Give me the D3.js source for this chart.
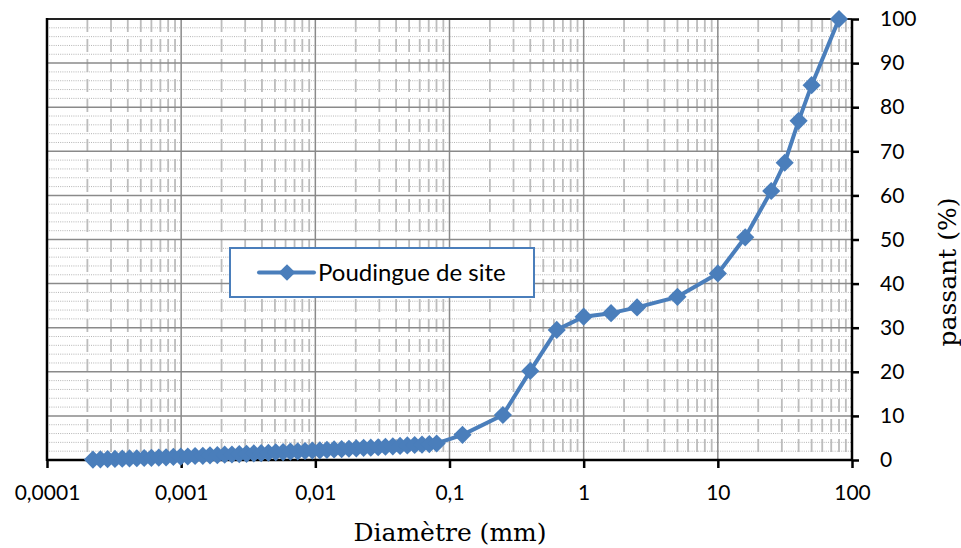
<!DOCTYPE html>
<html>
<head>
<meta charset="utf-8">
<script src="https://cdn.jsdelivr.net/npm/d3@7/dist/d3.min.js"></script>
<style>
  html, body { margin: 0; padding: 0; background: #fff; }
  svg { display: block; }
</style>
</head>
<body>
<svg id="chart" width="961" height="548"></svg>
<script>
// ---- Data ----
const seriesName = "Poudingue de site";
const diameters = [
  0.000220, 0.000250, 0.000283, 0.000321, 0.000364, 0.000412, 0.000467, 0.000530,
  0.000600, 0.000681, 0.000772, 0.000875, 0.000992, 0.00112, 0.00127, 0.00145,
  0.00164, 0.00186, 0.00211, 0.00239, 0.00271, 0.00307, 0.00348, 0.00395,
  0.00447, 0.00507, 0.00575, 0.00652, 0.00739, 0.00838, 0.00950, 0.0108,
  0.0122, 0.0138, 0.0157, 0.0178, 0.0202, 0.0229, 0.0259, 0.0294,
  0.0333, 0.0378, 0.0428, 0.0485, 0.0550, 0.0624, 0.0707, 0.0802,
  0.125, 0.25, 0.4, 0.63, 1, 1.6, 2.5, 5, 10, 16, 25, 31.5, 40, 50, 80
];
const passing = [
  0.1, 0.15, 0.2, 0.25, 0.3, 0.35, 0.4, 0.45,
  0.5, 0.55, 0.6, 0.7, 0.75, 0.8, 0.9, 0.95,
  1.05, 1.1, 1.2, 1.25, 1.35, 1.4, 1.5, 1.55,
  1.65, 1.75, 1.8, 1.9, 1.95, 2.05, 2.15, 2.2,
  2.3, 2.4, 2.45, 2.55, 2.65, 2.75, 2.8, 2.9,
  3.0, 3.1, 3.2, 3.3, 3.4, 3.5, 3.6, 3.75,
  5.7, 10.2, 20.2, 29.5, 32.5, 33.3, 34.6, 37.0, 42.3, 50.5, 61.0, 67.4, 76.9, 85.0, 100
];
const xTicks = [0.0001, 0.001, 0.01, 0.1, 1, 10, 100];
const xTickLabels = ["0,0001", "0,001", "0,01", "0,1", "1", "10", "100"];
const yTicks = [0, 10, 20, 30, 40, 50, 60, 70, 80, 90, 100];
const xTitle = "Diamètre (mm)";
const yTitle = "passant (%)";

// ---- Layout ----
const L = 47, R = 852, T = 19, B = 460;
const svg = d3.select("#chart");
const x = d3.scaleLog().domain([0.0001, 100]).range([L, R]);
const y = d3.scaleLinear().domain([0, 100]).range([B, T]);
const blue = "#4a7ebb";

// minor grid values
const minorX = [];
xTicks.slice(0, -1).forEach(d => { for (let k = 2; k <= 9; k++) minorX.push(d * k); });
const minorY = d3.range(0, 101, 2).filter(v => v % 10 !== 0);

const grid = svg.append("g");
grid.selectAll("line.mh").data(minorY).join("line")
  .attr("x1", L).attr("x2", R).attr("y1", d => y(d)).attr("y2", d => y(d))
  .attr("stroke", "#b4b4b4").attr("stroke-width", 1).attr("stroke-dasharray", "1,1.2");
grid.selectAll("line.mv").data(minorX).join("line")
  .attr("x1", d => x(d)).attr("x2", d => x(d)).attr("y1", T).attr("y2", B)
  .attr("stroke", "#bcbcbc").attr("stroke-width", 1.8).attr("stroke-dasharray", "13,7");
grid.selectAll("line.Mh").data(yTicks).join("line")
  .attr("x1", L).attr("x2", R).attr("y1", d => y(d)).attr("y2", d => y(d))
  .attr("stroke", "#8a8a8a").attr("stroke-width", 1.5);
grid.selectAll("line.Mv").data(xTicks).join("line")
  .attr("x1", d => x(d)).attr("x2", d => x(d)).attr("y1", T).attr("y2", B)
  .attr("stroke", "#8a8a8a").attr("stroke-width", 1.5);

// frame top
svg.append("line").attr("x1", L).attr("x2", R).attr("y1", T).attr("y2", T)
  .attr("stroke", "#222").attr("stroke-width", 2);

// axes
const xAxis = svg.append("g").attr("transform", `translate(0,${B})`)
  .call(d3.axisBottom(x).tickValues(xTicks).tickSize(8).tickPadding(17)
    .tickFormat((d, i) => xTickLabels[i]));
const yAxis = svg.append("g").attr("transform", `translate(${R},0)`)
  .call(d3.axisRight(y).tickValues(yTicks).tickSize(7).tickPadding(21));
[xAxis, yAxis].forEach(a => {
  a.select(".domain").attr("stroke", "#000").attr("stroke-width", 2.5);
  a.selectAll(".tick line").attr("stroke", "#000").attr("stroke-width", 2.5);
  a.selectAll("text").attr("fill", "#000").style("font-family", "Lato, 'Open Sans', sans-serif").style("font-size", "21px");
});
xAxis.select(".domain").attr("d", `M${L},0H${R}`);
yAxis.select(".domain").attr("d", `M0,${T}V${B}`);
// left axis line
svg.append("line").attr("x1", L).attr("x2", L).attr("y1", T - 1).attr("y2", B + 1)
  .attr("stroke", "#000").attr("stroke-width", 2.5);

// series
const pts = diameters.map((d, i) => ({ d, v: passing[i] }));
svg.append("path").datum(pts)
  .attr("fill", "none").attr("stroke", blue).attr("stroke-width", 4).attr("stroke-linejoin", "round")
  .attr("d", d3.line().x(p => x(p.d)).y(p => y(p.v)));
const sym = d3.symbol().type(d3.symbolSquare).size(165);
svg.append("g").selectAll("path").data(pts).join("path")
  .attr("d", sym).attr("fill", blue)
  .attr("transform", p => `translate(${x(p.d)},${y(p.v)}) rotate(45)`);

// legend
const lg = svg.append("g");
lg.append("rect").attr("x", 230).attr("y", 248).attr("width", 304).attr("height", 49)
  .attr("fill", "#fff").attr("stroke", blue).attr("stroke-width", 2);
lg.append("line").attr("x1", 259).attr("x2", 314).attr("y1", 272.5).attr("y2", 272.5)
  .attr("stroke", blue).attr("stroke-width", 4).attr("stroke-linecap", "round");
lg.append("path").attr("d", d3.symbol().type(d3.symbolSquare).size(140))
  .attr("fill", blue).attr("transform", "translate(287,272.5) rotate(45)");
lg.append("text").attr("x", 318).attr("y", 281).text(seriesName)
  .style("font-family", "Lato, 'Open Sans', sans-serif").style("font-size", "24px").attr("fill", "#000");

// titles
svg.append("text").attr("x", 450).attr("y", 541).attr("text-anchor", "middle").text(xTitle)
  .style("font-family", "'DejaVu Serif', serif").style("font-size", "25px").attr("fill", "#000");
svg.append("text").attr("transform", "translate(956,272) rotate(-90)").attr("text-anchor", "middle").text(yTitle)
  .style("font-family", "'DejaVu Serif', serif").style("font-size", "25px").attr("fill", "#000");
</script>
</body>
</html>
